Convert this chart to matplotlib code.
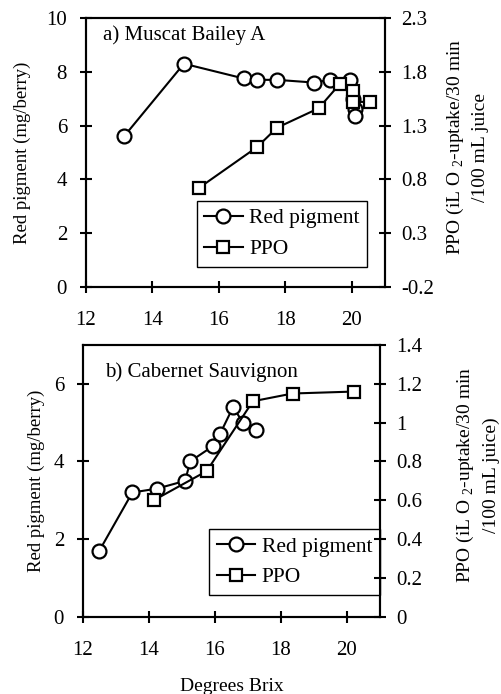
import numpy as np
import matplotlib
matplotlib.use('Agg')
import matplotlib.pyplot as plt

plt.rcParams['font.family'] = ['Liberation Serif', 'DejaVu Serif']
plt.rcParams['mathtext.fontset'] = 'custom'
plt.rcParams['mathtext.rm'] = 'Liberation Serif'
plt.rcParams['font.size'] = 15

# a) Muscat Bailey A
mba_pig_brix = [13.15, 14.95, 16.75, 17.15, 17.75, 18.85, 19.35, 19.95, 20.05, 20.1, 20.1]
mba_pig_val = [5.6, 8.3, 7.75, 7.7, 7.7, 7.6, 7.7, 7.7, 7.0, 6.6, 6.35]
mba_ppo_brix = [15.4, 17.15, 17.75, 19.0, 19.65, 20.05, 20.05, 20.55]
mba_ppo_val = [0.72, 1.1, 1.28, 1.46, 1.69, 1.62, 1.52, 1.52]

# b) Cabernet Sauvignon
cs_pig_brix = [12.5, 13.5, 14.25, 15.1, 15.25, 15.95, 16.15, 16.55, 16.85, 17.25]
cs_pig_val = [1.7, 3.2, 3.3, 3.5, 4.0, 4.4, 4.7, 5.4, 5.0, 4.8]
cs_ppo_brix = [14.15, 15.75, 17.15, 18.35, 20.2]
cs_ppo_val = [0.6, 0.75, 1.11, 1.15, 1.16]

ppo_label_a = 'PPO (iL O $_2$-uptake/30 min\n/100 mL juice'
ppo_label_b = 'PPO (iL O $_2$-uptake/30 min\n/100 mL juice)'


def style(ax):
    for s in ax.spines.values():
        s.set_linewidth(1.5)
    ax.tick_params(direction='inout', length=9, width=1.5, labelsize=15)


def panel(rect, title, pig_x, pig_y, ppo_x, ppo_y, ylim, yticks, rlim, rticks, rlabels,
          rlab, legpos, title_pos, lcoord, rcoord):
    ax = fig.add_axes(rect)
    ax2 = ax.twinx()
    l1, = ax.plot(pig_x, pig_y, '-o', color='black', lw=1.5, ms=10, mfc='white', mew=1.6,
                  label='Red pigment', zorder=3)
    l2, = ax2.plot(ppo_x, ppo_y, '-s', color='black', lw=1.5, ms=8.5, mfc='white', mew=1.6,
                   label='PPO', zorder=3)
    ax.set_xlim(12, 21)
    ax.set_xticks([12, 14, 16, 18, 20])
    ax.set_ylim(*ylim)
    ax.set_yticks(yticks)
    ax2.set_ylim(*rlim)
    ax2.set_yticks(rticks)
    ax2.set_yticklabels(rlabels)
    style(ax)
    style(ax2)
    ax.tick_params(top=False)
    ax.tick_params(axis='x', pad=13)
    ax.tick_params(axis='y', pad=9)
    ax2.tick_params(axis='y', pad=7)
    ax.set_ylabel('Red pigment (mg/berry)', fontsize=13.5)
    ax.yaxis.set_label_coords(*lcoord)
    ax2.set_ylabel(rlab, fontsize=14, linespacing=1.5)
    ax2.yaxis.set_label_coords(*rcoord)
    ax.text(title_pos[0], title_pos[1], title, transform=ax.transAxes, fontsize=15,
            va='center', ha='left')
    leg = ax.legend([l1, l2], ['Red pigment', 'PPO'], loc='lower left', bbox_to_anchor=legpos,
                    fancybox=False, framealpha=1, edgecolor='black', handlelength=1.8,
                    handletextpad=0.3, borderpad=0.35, labelspacing=0.5, fontsize=15.5,
                    borderaxespad=0)
    leg.get_frame().set_linewidth(1.0)
    leg.set_zorder(5)
    return ax, ax2


fig = plt.figure(figsize=(5.02, 6.94), dpi=100)

panel([0.171, 0.5865, 0.596, 0.3876], 'a) Muscat Bailey A',
      mba_pig_brix, mba_pig_val, mba_ppo_brix, mba_ppo_val,
      (0, 10), [0, 2, 4, 6, 8, 10],
      (-0.2, 2.3), [-0.2, 0.3, 0.8, 1.3, 1.8, 2.3],
      ['-0.2', '0.3', '0.8', '1.3', '1.8', '2.3'], ppo_label_a, (0.37, 0.0755),
      (0.057, 0.937), (-0.184, 0.5), (1.20, 0.52))

ax_b, _ = panel([0.165, 0.1114, 0.592, 0.3915], 'b) Cabernet Sauvignon',
                cs_pig_brix, cs_pig_val, cs_ppo_brix, cs_ppo_val,
                (0, 7), [0, 2, 4, 6],
                (0, 1.4), [0, 0.2, 0.4, 0.6, 0.8, 1, 1.2, 1.4],
                ['0', '0.2', '0.4', '0.6', '0.8', '1', '1.2', '1.4'], ppo_label_b, (0.425, 0.08),
                (0.075, 0.9), (-0.127, 0.5), (1.252, 0.52))
ax_b.set_xlabel('Degrees Brix', fontsize=14, labelpad=13)

fig.savefig('out.png', dpi=100)
